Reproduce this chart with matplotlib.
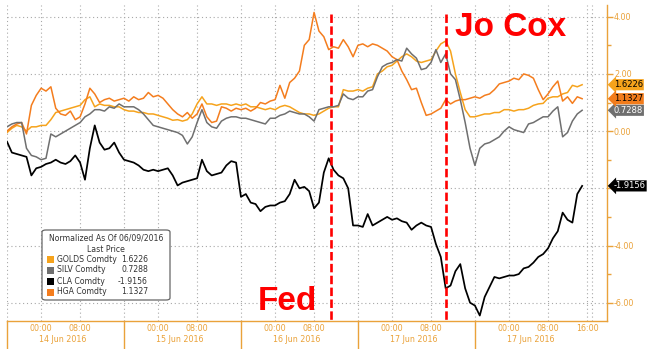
import matplotlib
matplotlib.use("Agg")
import matplotlib.pyplot as plt
import matplotlib.transforms as mtransforms
from matplotlib.patches import FancyBboxPatch, Rectangle
import numpy as np

W, H = 651, 349

# hourly samples, hour 0 = 17:00 on the evening before the first session
hours = np.arange(119)

golds = [-0.05, 0.1, 0.2, 0.15, 0.0, 0.15, 0.15, 0.2, 0.2, 0.4,
         0.65, 0.7, 0.75, 0.8, 0.85, 0.9, 1.1, 1.2, 0.85, 0.95,
         0.9, 0.9, 0.85, 0.85, 0.75, 0.7, 0.7, 0.65, 0.65, 0.6,
         0.6, 0.55, 0.5, 0.45, 0.38, 0.4, 0.35, 0.4, 0.6, 0.95,
         1.2, 0.95, 0.95, 0.9, 0.95, 0.95, 0.9, 0.95, 0.9, 0.95,
         0.85, 0.85, 0.8, 0.75, 0.8, 0.75, 0.85, 0.9, 0.85, 0.75,
         0.65, 0.6, 0.6, 0.55, 0.6, 0.7, 0.8, 0.85, 0.85, 1.45,
         1.4, 1.4, 1.45, 1.4, 1.5, 1.55, 2.0, 2.1, 2.25, 2.3,
         2.45, 2.6, 2.7, 2.6, 2.45, 2.4, 2.45, 2.5, 2.8, 3.05,
         3.15, 2.8, 2.0, 1.35, 0.75, 0.5, 0.5, 0.55, 0.6, 0.6,
         0.65, 0.65, 0.75, 0.75, 0.7, 0.75, 0.75, 0.8, 0.9, 0.95,
         0.97, 1.15, 1.2, 1.2, 1.3, 1.35, 1.6, 1.55, 1.6226]

silv = [0.15, 0.25, 0.3, 0.3, -0.6, -0.85, -0.9, -1.0, -0.95, -0.1,
        -0.2, -0.1, 0.0, 0.1, 0.2, 0.3, 0.5, 0.6, 0.75, 0.75,
        0.7, 0.85, 0.8, 0.95, 0.85, 0.85, 0.85, 0.75, 0.6, 0.4,
        0.2, 0.15, 0.1, 0.05, 0.0, -0.05, -0.15, -0.45, -0.2, 0.3,
        0.75, 0.3, 0.15, 0.1, 0.35, 0.45, 0.5, 0.5, 0.45, 0.45,
        0.4, 0.35, 0.3, 0.25, 0.45, 0.45, 0.55, 0.6, 0.7, 0.65,
        0.6, 0.6, 0.5, 0.35, 0.75, 0.8, 0.85, 0.85, 0.9, 1.3,
        1.15, 1.1, 1.2, 1.2, 1.4, 1.45, 1.9, 2.25, 2.35, 2.4,
        2.5, 2.45, 2.9, 2.7, 2.55, 2.15, 2.2, 2.4, 2.85, 2.4,
        2.7, 2.0, 1.8, 1.1, 0.3, -0.6, -1.2, -0.6, -0.45, -0.4,
        -0.3, -0.2, 0.0, 0.15, 0.05, 0.0, -0.05, 0.25, 0.3, 0.4,
        0.5, 0.5, 0.7, 0.85, -0.2, -0.05, 0.35, 0.6, 0.7288]

cla = [-0.37, -0.75, -0.8, -0.85, -0.9, -1.55, -1.3, -1.25, -1.15, -1.1,
       -1.0, -1.1, -1.15, -1.05, -0.85, -1.1, -1.7, -0.6, 0.2, -0.4,
       -0.65, -0.6, -0.4, -0.75, -1.0, -1.05, -1.1, -1.2, -1.35, -1.4,
       -1.35, -1.4, -1.35, -1.3, -1.55, -1.9, -1.8, -1.75, -1.7, -1.65,
       -1.0, -1.4, -1.55, -1.5, -1.45, -1.2, -1.05, -1.1, -2.3, -2.2,
       -2.5, -2.55, -2.8, -2.65, -2.6, -2.6, -2.5, -2.45, -2.2, -1.7,
       -2.0, -1.95, -2.1, -2.7, -2.5, -1.45, -0.95, -1.35, -1.55, -1.65,
       -2.0, -3.3, -3.3, -3.35, -2.9, -3.3, -3.2, -3.1, -3.0, -3.1,
       -3.05, -3.15, -3.2, -3.45, -3.3, -3.2, -3.3, -3.35, -3.95, -4.4,
       -5.5, -5.4, -4.9, -4.65, -5.5, -6.0, -6.1, -6.45, -5.8, -5.45,
       -5.1, -5.15, -5.1, -5.05, -5.05, -5.0, -4.8, -4.75, -4.6, -4.4,
       -4.3, -4.1, -3.75, -3.5, -2.85, -3.1, -3.2, -2.2, -1.9156]

hga = [0.0, 0.15, 0.25, 0.3, -0.1, 0.9, 1.25, 1.5, 1.4, 1.55,
       0.8, 0.6, 0.55, 0.7, 0.4, 0.5, 0.95, 1.5, 1.3, 1.0,
       1.1, 1.15, 1.05, 1.1, 1.15, 1.05, 1.2, 1.1, 1.15, 1.35,
       1.2, 1.25, 1.15, 0.95, 0.75, 0.6, 0.5, 0.65, 0.45, 0.6,
       0.95, 0.5, 0.3, 0.35, 0.85, 0.8, 0.7, 0.8, 0.75, 0.8,
       0.7, 0.8, 1.0, 0.95, 1.05, 1.1, 1.6, 1.15, 1.7, 1.85,
       2.1, 3.0, 3.2, 4.15, 3.5, 3.3, 2.85, 2.95, 2.9, 3.2,
       2.95, 2.6, 3.0, 3.05, 2.95, 3.05, 3.0, 2.9, 2.8, 2.6,
       2.5, 2.1, 1.8, 1.45, 1.5, 1.0, 0.55, 0.6, 0.7, 0.8,
       1.1, 0.95, 1.05, 1.1, 1.1, 1.15, 1.2, 1.15, 1.25, 1.3,
       1.45, 1.65, 1.7, 1.75, 1.85, 1.8, 2.0, 1.95, 1.85, 1.45,
       1.1, 1.3, 1.55, 1.75, 1.05, 1.2, 0.97, 1.2, 1.1327]

names = ["GOLDS Comdty", "SILV Comdty", "CLA Comdty", "HGA Comdty"]
last_vals = [1.6226, 0.7288, -1.9156, 1.1327]
colors = ["#f6a31c", "#6f6f6f", "#000000", "#f47d1e"]

day_labels = ["14 Jun 2016", "15 Jun 2016", "16 Jun 2016", "17 Jun 2016", "17 Jun 2016"]
fed_hour = 66.5
cox_hour = 90.0

axis_col = "#eaa23a"
grid_col = "#a8a8a8"

fig = plt.figure(figsize=(W / 100, H / 100), dpi=100)
ax = fig.add_axes([7 / W, 1 - 321 / H, 600 / W, 316 / H])
ax.set_xlim(0, 123.1)
ax.set_ylim(-6.64, 4.41)

# series
for vals, c, lw in [(golds, colors[0], 1.1), (hga, colors[3], 1.1),
                    (silv, colors[1], 1.1), (cla, colors[2], 1.25)]:
    ax.plot(hours, vals, color=c, lw=lw, zorder=3)

# dotted grid: session boundaries, time ticks, even values
xt = []
xl = []
for d in range(5):
    xt += [7 + 24 * d, 15 + 24 * d]
    xl += ["00:00", "08:00"]
xt.append(119)
xl.append("16:00")
for h in list(range(0, 121, 24)) + xt:
    ax.axvline(h, color=grid_col, lw=0.8, ls=(0, (1, 2.5)), zorder=1)
for v in range(-6, 5, 2):
    ax.axhline(v, color=grid_col, lw=0.8, ls=(0, (1, 2.5)), zorder=1)

# event markers
for h in (fed_hour, cox_hour):
    ax.plot([h, h], [4.1, -6.64], color="#ff0000", lw=1.9,
            ls=(0, (3.2, 1.3)), zorder=4)

# spines
for s in ("top", "left"):
    ax.spines[s].set_visible(False)
for s in ("bottom", "right"):
    ax.spines[s].set_color(axis_col)
    ax.spines[s].set_linewidth(1.0)

# x axis labels
ax.set_xticks(xt)
ax.set_xticklabels(xl)
ax.tick_params(axis="x", length=0, pad=2.0, labelsize=5.8, labelcolor=axis_col)
trans = mtransforms.blended_transform_factory(ax.transData, ax.transAxes)
for d, lab in enumerate(day_labels):
    ax.text(11.5 + 24 * d, -0.058, lab, transform=trans, ha="center",
            va="center", fontsize=5.8, color=axis_col)
for h in range(0, 97, 24):
    ax.plot([h, h], [0, -0.09], transform=trans, color=axis_col, lw=1.0,
            clip_on=False)

# right value axis
ax.yaxis.tick_right()
ax.set_yticks([-6, -4, -2, 0, 2, 4])
ax.set_yticklabels(["-6.00", "-4.00", "", "0.00", "2.00", "4.00"])
ax.set_yticks([-5, -3, -1, 1, 3], minor=True)
ax.tick_params(axis="y", which="major", length=4, width=1.0, color=axis_col,
               pad=1, labelsize=5.8, labelcolor=axis_col)
ax.tick_params(axis="y", which="minor", length=3, width=1.0, color=axis_col)

# last value tags
tag_style = [("#f6a31c", "black"), ("#6f6f6f", "white"),
             ("#000000", "white"), ("#f27c1b", "black")]
ytrans = mtransforms.blended_transform_factory(ax.transAxes, ax.transData)
for v, (fc, tc) in zip(last_vals, tag_style):
    ax.text(1.011, v, f"{v:.4f}", transform=ytrans, ha="left", va="center",
            fontsize=6.0, color=tc, clip_on=False, zorder=6,
            bbox=dict(boxstyle="larrow,pad=0.13", fc=fc, ec="none"))

# annotations
fig.text(258 / W, 1 - 310 / H, "Fed", color="#ff0000", fontsize=24,
         fontweight="bold", family="Liberation Sans", va="baseline")
fig.text(455 / W, 1 - 36 / H, "Jo Cox", color="#ff0000", fontsize=24,
         fontweight="bold", family="Liberation Sans", va="baseline")


# legend box, drawn in pixel positions
def fx(x):
    return x / W


def fy(y):
    return 1 - y / H


box = FancyBboxPatch((fx(42), fy(300)), fx(170) - fx(42), fy(230) - fy(300),
                     boxstyle="round,pad=0,rounding_size=0.006",
                     transform=fig.transFigure, fc="white", ec="#666666",
                     lw=0.9, zorder=10)
fig.patches.append(box)
leg_fs = 5.6
fig.text(fx(106), fy(238), "Normalized As Of 06/09/2016", ha="center",
         va="center", fontsize=leg_fs, color="#333333", zorder=11)
fig.text(fx(106), fy(249), "Last Price", ha="center", va="center",
         fontsize=leg_fs, color="#333333", zorder=11)
row_y = [259, 270, 281, 292]
for nm, v, c, ry in zip(names, last_vals, colors, row_y):
    fig.patches.append(Rectangle((fx(47), fy(ry + 3.5)), fx(7), 7 / H,
                                 transform=fig.transFigure, fc=c, ec="none",
                                 zorder=11))
    fig.text(fx(57), fy(ry), nm, ha="left", va="center", fontsize=leg_fs,
             color="#333333", zorder=11)
    fig.text(fx(148), fy(ry), f"{v:.4f}", ha="right", va="center",
             fontsize=leg_fs, color="#333333", zorder=11)

fig.savefig("out.png", dpi=100)
